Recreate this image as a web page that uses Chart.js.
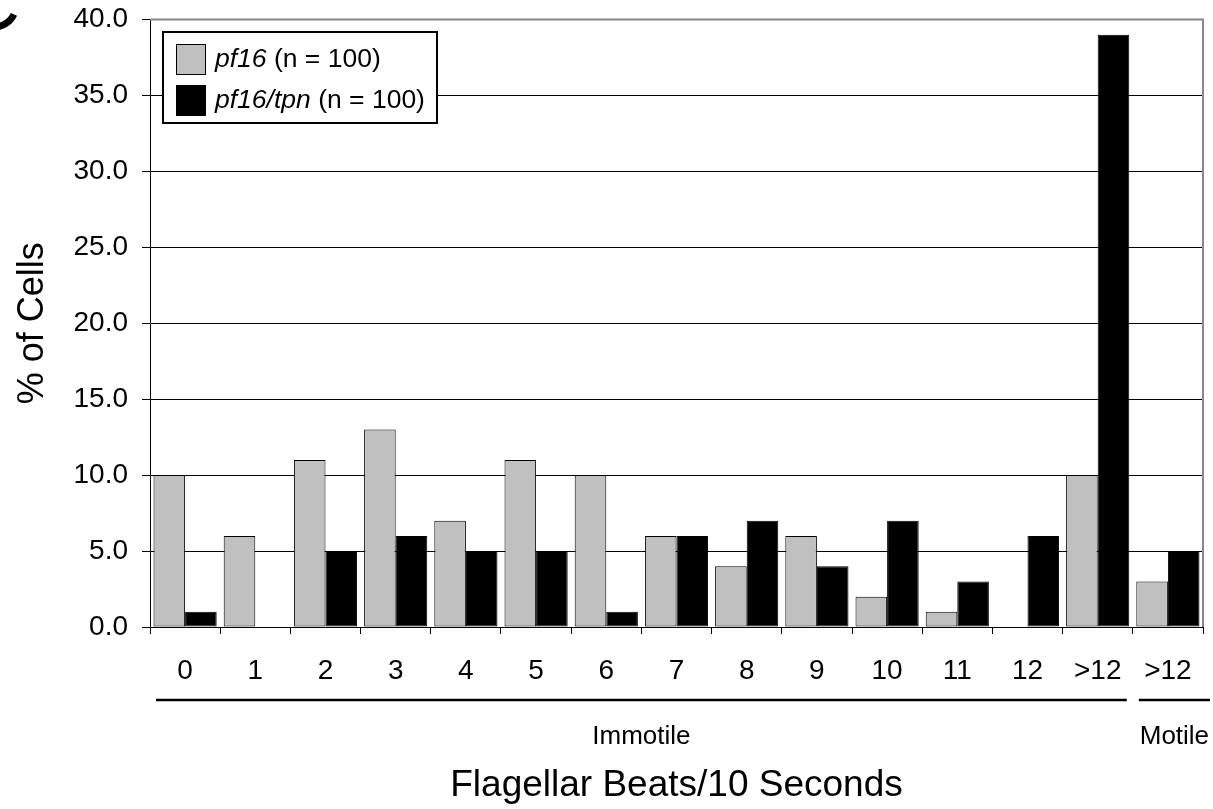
<!DOCTYPE html>
<html>
<head>
<meta charset="utf-8">
<script src="https://cdn.jsdelivr.net/npm/chart.js@4/dist/chart.umd.min.js"></script>
<style>
  html, body { margin: 0; padding: 0; background: #fff; }
  #wrap { width: 1213px; height: 809px; }
</style>
</head>
<body>
<div id="wrap"><canvas id="beatChart" width="1213" height="809"></canvas></div>
<script>
// data
const categories = ['0', '1', '2', '3', '4', '5', '6', '7', '8', '9', '10', '11', '12', '>12', '>12'];
const pf16 = [10, 6, 11, 13, 7, 11, 10, 6, 4, 6, 2, 1, 0, 10, 3];
const pf16tpn = [1, 0, 5, 6, 5, 5, 1, 6, 7, 4, 7, 3, 6, 39, 5];
const yTicks = [0, 5, 10, 15, 20, 25, 30, 35, 40];
const groups = [
  { label: 'Immotile', from: 0, to: 13 },
  { label: 'Motile', from: 14, to: 14 }
];

const FONT = 'Arial, "Liberation Sans", sans-serif';

// legend with italic strain names
const legendBox = {
  id: 'legendBox',
  afterDraw(chart) {
    const { ctx } = chart;
    const names = [['pf16', ' (n = 100)'], ['pf16/tpn', ' (n = 100)']];
    ctx.save();
    ctx.fillStyle = '#fff';
    ctx.fillRect(163, 32, 274, 91);
    ctx.strokeStyle = '#000';
    ctx.lineWidth = 2;
    ctx.strokeRect(163, 32, 274, 91);
    ctx.textBaseline = 'middle';
    chart.data.datasets.forEach((ds, i) => {
      const y = 44 + i * 41;
      ctx.fillStyle = ds.backgroundColor;
      ctx.fillRect(176, y, 30, 31);
      ctx.lineWidth = 1;
      ctx.strokeStyle = '#000';
      ctx.strokeRect(176.5, y + 0.5, 29, 30);
      ctx.fillStyle = '#000';
      ctx.font = 'italic 26.5px ' + FONT;
      ctx.fillText(names[i][0], 215, y + 16);
      const w = ctx.measureText(names[i][0]).width;
      ctx.font = '26.5px ' + FONT;
      ctx.fillText(names[i][1], 215 + w, y + 16);
    });
    ctx.restore();
  }
};

// underlines and group names below the category labels, plus plot frame
const groupLabels = {
  id: 'groupLabels',
  afterDraw(chart) {
    const { ctx, chartArea } = chart;
    const x = chart.scales.x;
    const half = (x.getPixelForValue(1) - x.getPixelForValue(0)) / 2;
    ctx.save();
    // gray frame top/right
    ctx.strokeStyle = '#888';
    ctx.lineWidth = 2;
    ctx.beginPath();
    ctx.moveTo(chartArea.left, chartArea.top);
    ctx.lineTo(chartArea.right, chartArea.top);
    ctx.lineTo(chartArea.right, chartArea.bottom);
    ctx.stroke();
    groups.forEach((g, i) => {
      const x0 = x.getPixelForValue(g.from) - half + 6;
      const x1 = x.getPixelForValue(g.to) + half + (i === groups.length - 1 ? 7 : -6);
      ctx.strokeStyle = '#000';
      ctx.lineWidth = 2.5;
      ctx.beginPath();
      ctx.moveTo(x0, 700);
      ctx.lineTo(x1, 700);
      ctx.stroke();
      ctx.fillStyle = '#000';
      ctx.font = '26px ' + FONT;
      ctx.textAlign = 'center';
      ctx.textBaseline = 'middle';
      ctx.fillText(g.label, (x0 + x1) / 2, 737);
    });
    // clipped panel letter in the corner
    ctx.lineWidth = 7;
    ctx.beginPath();
    ctx.arc(-6, 5, 22, 0.14 * Math.PI, 0.55 * Math.PI);
    ctx.stroke();
    ctx.restore();
  }
};

const ctx = document.getElementById('beatChart').getContext('2d');

new Chart(ctx, {
  type: 'bar',
  data: {
    labels: categories,
    datasets: [{
      label: 'pf16 (n = 100)',
      data: pf16,
      backgroundColor: '#c0c0c0',
      borderColor: '#000',
      borderWidth: 1,
      borderSkipped: false
    }, {
      label: 'pf16/tpn (n = 100)',
      data: pf16tpn,
      backgroundColor: '#000',
      borderColor: '#000',
      borderWidth: 1,
      borderSkipped: false
    }]
  },
  options: {
    responsive: false,
    animation: false,
    devicePixelRatio: 1,
    categoryPercentage: 0.9,
    barPercentage: 1.0,
    layout: { padding: { left: 0, top: 6, right: 10, bottom: 0 } },
    plugins: {
      legend: { display: false },
      tooltip: { enabled: false }
    },
    scales: {
      x: {
        grid: { display: true, drawOnChartArea: false, offset: true, color: '#000', tickLength: 7 },
        border: { color: '#000', width: 1 },
        ticks: { color: '#000', font: { family: FONT, size: 28 }, padding: 20, maxRotation: 0, autoSkip: false },
        title: { display: true, text: 'Flagellar Beats/10 Seconds', color: '#000', font: { family: FONT, size: 37 }, padding: { top: 0, bottom: 1 } },
        afterFit(scale) { scale.height = 809 - 627; }
      },
      y: {
        min: 0,
        max: 40,
        afterBuildTicks(scale) { scale.ticks = yTicks.map(v => ({ value: v })); },
        grid: { color: '#000', tickLength: 8 },
        border: { color: '#000', width: 1 },
        ticks: {
          color: '#000',
          font: { family: FONT, size: 28, lineHeight: 0.4 },
          padding: 14,
          callback: v => Number(v).toFixed(1)
        },
        title: { display: true, text: '% of Cells', color: '#000', font: { family: FONT, size: 36 }, padding: { top: 11, bottom: 0 } },
        afterFit(scale) { scale.width = 150; }
      }
    }
  },
  plugins: [legendBox, groupLabels]
});
</script>
</body>
</html>
